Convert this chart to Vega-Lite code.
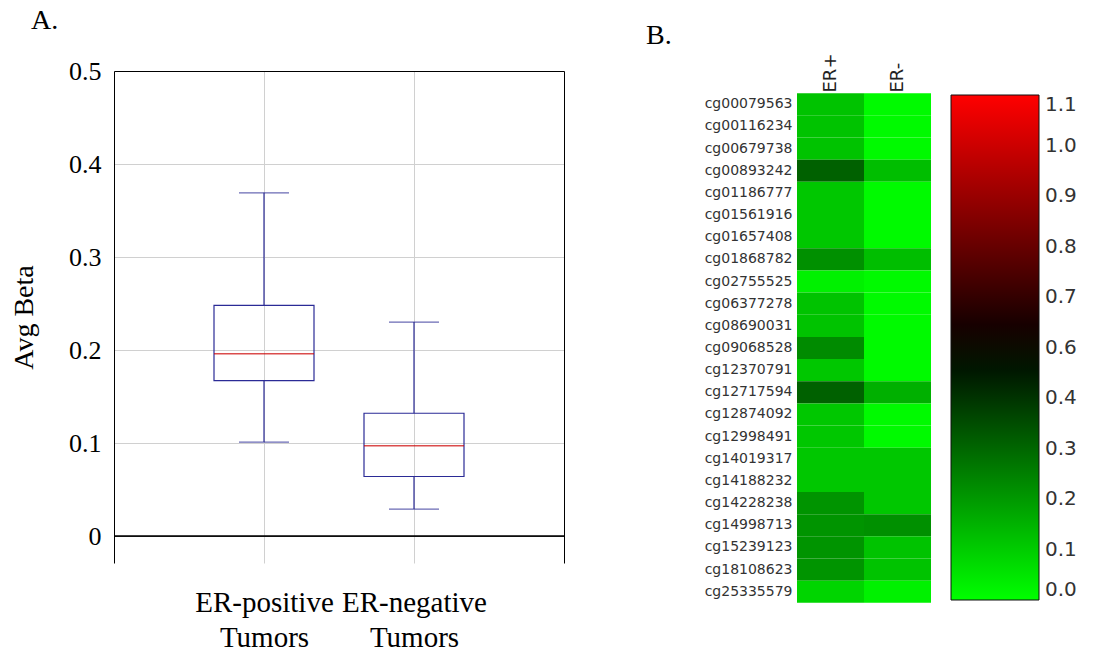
{
  "$schema": "https://vega.github.io/schema/vega-lite/v6.json",
  "padding": {"left": 10, "top": 7, "right": 0, "bottom": 0},
  "background": "white",
  "config": {"view": {"stroke": null}, "axis": {"domainWidth": 1}},
  "spacing": 81,
  "hconcat": [
    {
      "width": 450,
      "height": 492,
      "title": {"text": "A.", "anchor": "start", "frame": "group", "dx": -83, "offset": 1, "baseline": "alphabetic", "font": "Liberation Serif", "fontSize": 28, "fontWeight": "normal", "color": "black"},
      "data": {"values": [
        {"group": "ER-positive Tumors", "lower": 0.101, "q1": 0.167, "median": 0.196, "q3": 0.248, "upper": 0.369},
        {"group": "ER-negative Tumors", "lower": 0.029, "q1": 0.064, "median": 0.097, "q3": 0.132, "upper": 0.230}
      ]},
      "layer": [
        {
          "mark": {"type": "rule", "color": "#2b2b96", "strokeWidth": 1.2},
          "encoding": {
            "x": {"field": "group", "type": "nominal", "sort": null, "scale": {"type": "point", "padding": 1},
                  "axis": {"orient": "bottom", "title": null, "domain": false, "ticks": false, "grid": true, "gridColor": "#d0d0d0", "labelAngle": 0, "labelExpr": "split(datum.label, ' ')", "labelFont": "Liberation Serif", "labelFontSize": 29, "labelColor": "black", "labelPadding": 25, "labelLineHeight": 35}},
            "y": {"field": "lower", "type": "quantitative", "scale": {"domain": [-0.029, 0.5], "nice": false, "zero": false},
                  "axis": {"orient": "left", "values": [0, 0.1, 0.2, 0.3, 0.4, 0.5], "labelExpr": "datum.value == 0 ? '0' : format(datum.value, '.1f')", "grid": true, "gridColor": "#d0d0d0", "ticks": false, "domainColor": "black", "labelFont": "Liberation Serif", "labelFontSize": 26, "labelColor": "black", "labelPadding": 13, "title": "Avg Beta", "titleFont": "Liberation Serif", "titleFontSize": 28, "titleFontWeight": "normal", "titleColor": "black", "titlePadding": 30}},
            "y2": {"field": "q1"}
          }
        },
        {
          "mark": {"type": "rule", "color": "#2b2b96", "strokeWidth": 1.2},
          "encoding": {
            "x": {"field": "group", "type": "nominal", "sort": null, "axis": {"orient": "top", "title": null, "labels": false, "ticks": false, "grid": false, "domain": true, "domainColor": "black", "minExtent": 0}},
            "y": {"field": "q3", "type": "quantitative", "axis": {"orient": "right", "labels": false, "ticks": false, "grid": false, "domain": true, "domainColor": "black", "title": null, "minExtent": 0}},
            "y2": {"field": "upper"}
          }
        },
        {
          "mark": {"type": "bar", "width": 100, "filled": false, "color": "#2b2b96", "strokeWidth": 1.2},
          "encoding": {
            "x": {"field": "group", "type": "nominal", "sort": null, "axis": null},
            "y": {"field": "q1", "type": "quantitative", "axis": null},
            "y2": {"field": "q3"}
          }
        },
        {
          "mark": {"type": "tick", "color": "#cc0000", "size": 100, "thickness": 1.4},
          "encoding": {
            "x": {"field": "group", "type": "nominal", "sort": null, "axis": null},
            "y": {"field": "median", "type": "quantitative", "axis": null}
          }
        },
        {
          "mark": {"type": "tick", "color": "#2b2b96", "size": 50, "thickness": 1.2},
          "encoding": {
            "x": {"field": "group", "type": "nominal", "sort": null, "axis": null},
            "y": {"field": "upper", "type": "quantitative", "axis": null}
          }
        },
        {
          "mark": {"type": "tick", "color": "#2b2b96", "size": 50, "thickness": 1.2},
          "encoding": {
            "x": {"field": "group", "type": "nominal", "sort": null, "axis": null},
            "y": {"field": "lower", "type": "quantitative", "axis": null}
          }
        },
        {
          "mark": {"type": "rule", "color": "black", "strokeWidth": 1.2},
          "encoding": {
            "y": {"datum": 0, "type": "quantitative", "axis": null}
          }
        }
      ],
      "resolve": {"axis": {"x": "independent", "y": "independent"}}
    },
    {
      "width": 134,
      "height": 554,
      "title": {"text": "B.", "anchor": "start", "frame": "group", "dx": -151, "offset": -19, "baseline": "alphabetic", "font": "Liberation Serif", "fontSize": 28, "fontWeight": "normal", "color": "black"},
      "data": {"values": [
        {"probe": "cg00079563", "group": "ER+", "beta": 0.13}, {"probe": "cg00079563", "group": "ER-", "beta": 0.01},
        {"probe": "cg00116234", "group": "ER+", "beta": 0.13}, {"probe": "cg00116234", "group": "ER-", "beta": 0.01},
        {"probe": "cg00679738", "group": "ER+", "beta": 0.13}, {"probe": "cg00679738", "group": "ER-", "beta": 0.01},
        {"probe": "cg00893242", "group": "ER+", "beta": 0.34}, {"probe": "cg00893242", "group": "ER-", "beta": 0.14},
        {"probe": "cg01186777", "group": "ER+", "beta": 0.12}, {"probe": "cg01186777", "group": "ER-", "beta": 0.01},
        {"probe": "cg01561916", "group": "ER+", "beta": 0.12}, {"probe": "cg01561916", "group": "ER-", "beta": 0.01},
        {"probe": "cg01657408", "group": "ER+", "beta": 0.12}, {"probe": "cg01657408", "group": "ER-", "beta": 0.01},
        {"probe": "cg01868782", "group": "ER+", "beta": 0.24}, {"probe": "cg01868782", "group": "ER-", "beta": 0.14},
        {"probe": "cg02755525", "group": "ER+", "beta": 0.03}, {"probe": "cg02755525", "group": "ER-", "beta": 0.01},
        {"probe": "cg06377278", "group": "ER+", "beta": 0.13}, {"probe": "cg06377278", "group": "ER-", "beta": 0.01},
        {"probe": "cg08690031", "group": "ER+", "beta": 0.13}, {"probe": "cg08690031", "group": "ER-", "beta": 0.01},
        {"probe": "cg09068528", "group": "ER+", "beta": 0.25}, {"probe": "cg09068528", "group": "ER-", "beta": 0.01},
        {"probe": "cg12370791", "group": "ER+", "beta": 0.12}, {"probe": "cg12370791", "group": "ER-", "beta": 0.01},
        {"probe": "cg12717594", "group": "ER+", "beta": 0.34}, {"probe": "cg12717594", "group": "ER-", "beta": 0.17},
        {"probe": "cg12874092", "group": "ER+", "beta": 0.12}, {"probe": "cg12874092", "group": "ER-", "beta": 0.01},
        {"probe": "cg12998491", "group": "ER+", "beta": 0.12}, {"probe": "cg12998491", "group": "ER-", "beta": 0.01},
        {"probe": "cg14019317", "group": "ER+", "beta": 0.12}, {"probe": "cg14019317", "group": "ER-", "beta": 0.12},
        {"probe": "cg14188232", "group": "ER+", "beta": 0.12}, {"probe": "cg14188232", "group": "ER-", "beta": 0.12},
        {"probe": "cg14228238", "group": "ER+", "beta": 0.23}, {"probe": "cg14228238", "group": "ER-", "beta": 0.12},
        {"probe": "cg14998713", "group": "ER+", "beta": 0.23}, {"probe": "cg14998713", "group": "ER-", "beta": 0.24},
        {"probe": "cg15239123", "group": "ER+", "beta": 0.23}, {"probe": "cg15239123", "group": "ER-", "beta": 0.13},
        {"probe": "cg18108623", "group": "ER+", "beta": 0.23}, {"probe": "cg18108623", "group": "ER-", "beta": 0.13},
        {"probe": "cg25335579", "group": "ER+", "beta": 0.09}, {"probe": "cg25335579", "group": "ER-", "beta": 0.03}
      ]},
      "mark": {"type": "rect"},
      "encoding": {
        "x": {"field": "group", "type": "nominal", "sort": ["ER+", "ER-"], "scale": {"paddingInner": 0, "paddingOuter": 0},
              "axis": {"orient": "top", "title": null, "labelAngle": -90, "domain": false, "ticks": false, "labelPadding": -21, "labelFont": "DejaVu Sans", "labelFontSize": 18, "labelColor": "#222"}},
        "y": {"field": "probe", "type": "nominal", "sort": null, "scale": {"paddingInner": 0, "paddingOuter": 1.0909},
              "axis": {"title": null, "domain": false, "ticks": false, "labelPadding": 5, "labelFont": "DejaVu Sans", "labelFontSize": 14, "labelColor": "#333"}},
        "color": {"field": "beta", "type": "quantitative",
                  "scale": {"domain": [0, 0.55, 1.1], "range": ["#00ff00", "#000000", "#ff0000"], "interpolate": "rgb"},
                  "legend": {"title": null, "direction": "vertical", "gradientLength": 505, "gradientThickness": 88, "gradientStrokeColor": "#111", "gradientStrokeWidth": 1,
                             "values": [0, 0.11, 0.22, 0.33, 0.44, 0.55, 0.66, 0.77, 0.88, 0.99, 1.1],
                             "labelExpr": "['0.0','0.1','0.2','0.3','0.4','0.6','0.7','0.8','0.9','1.0','1.1'][round(datum.value / 0.11)]",
                             "labelFont": "DejaVu Sans", "labelFontSize": 20, "labelColor": "#333", "labelOffset": 6, "labelOverlap": false,
                             "padding": 24, "offset": -4}}
      }
    }
  ]
}
